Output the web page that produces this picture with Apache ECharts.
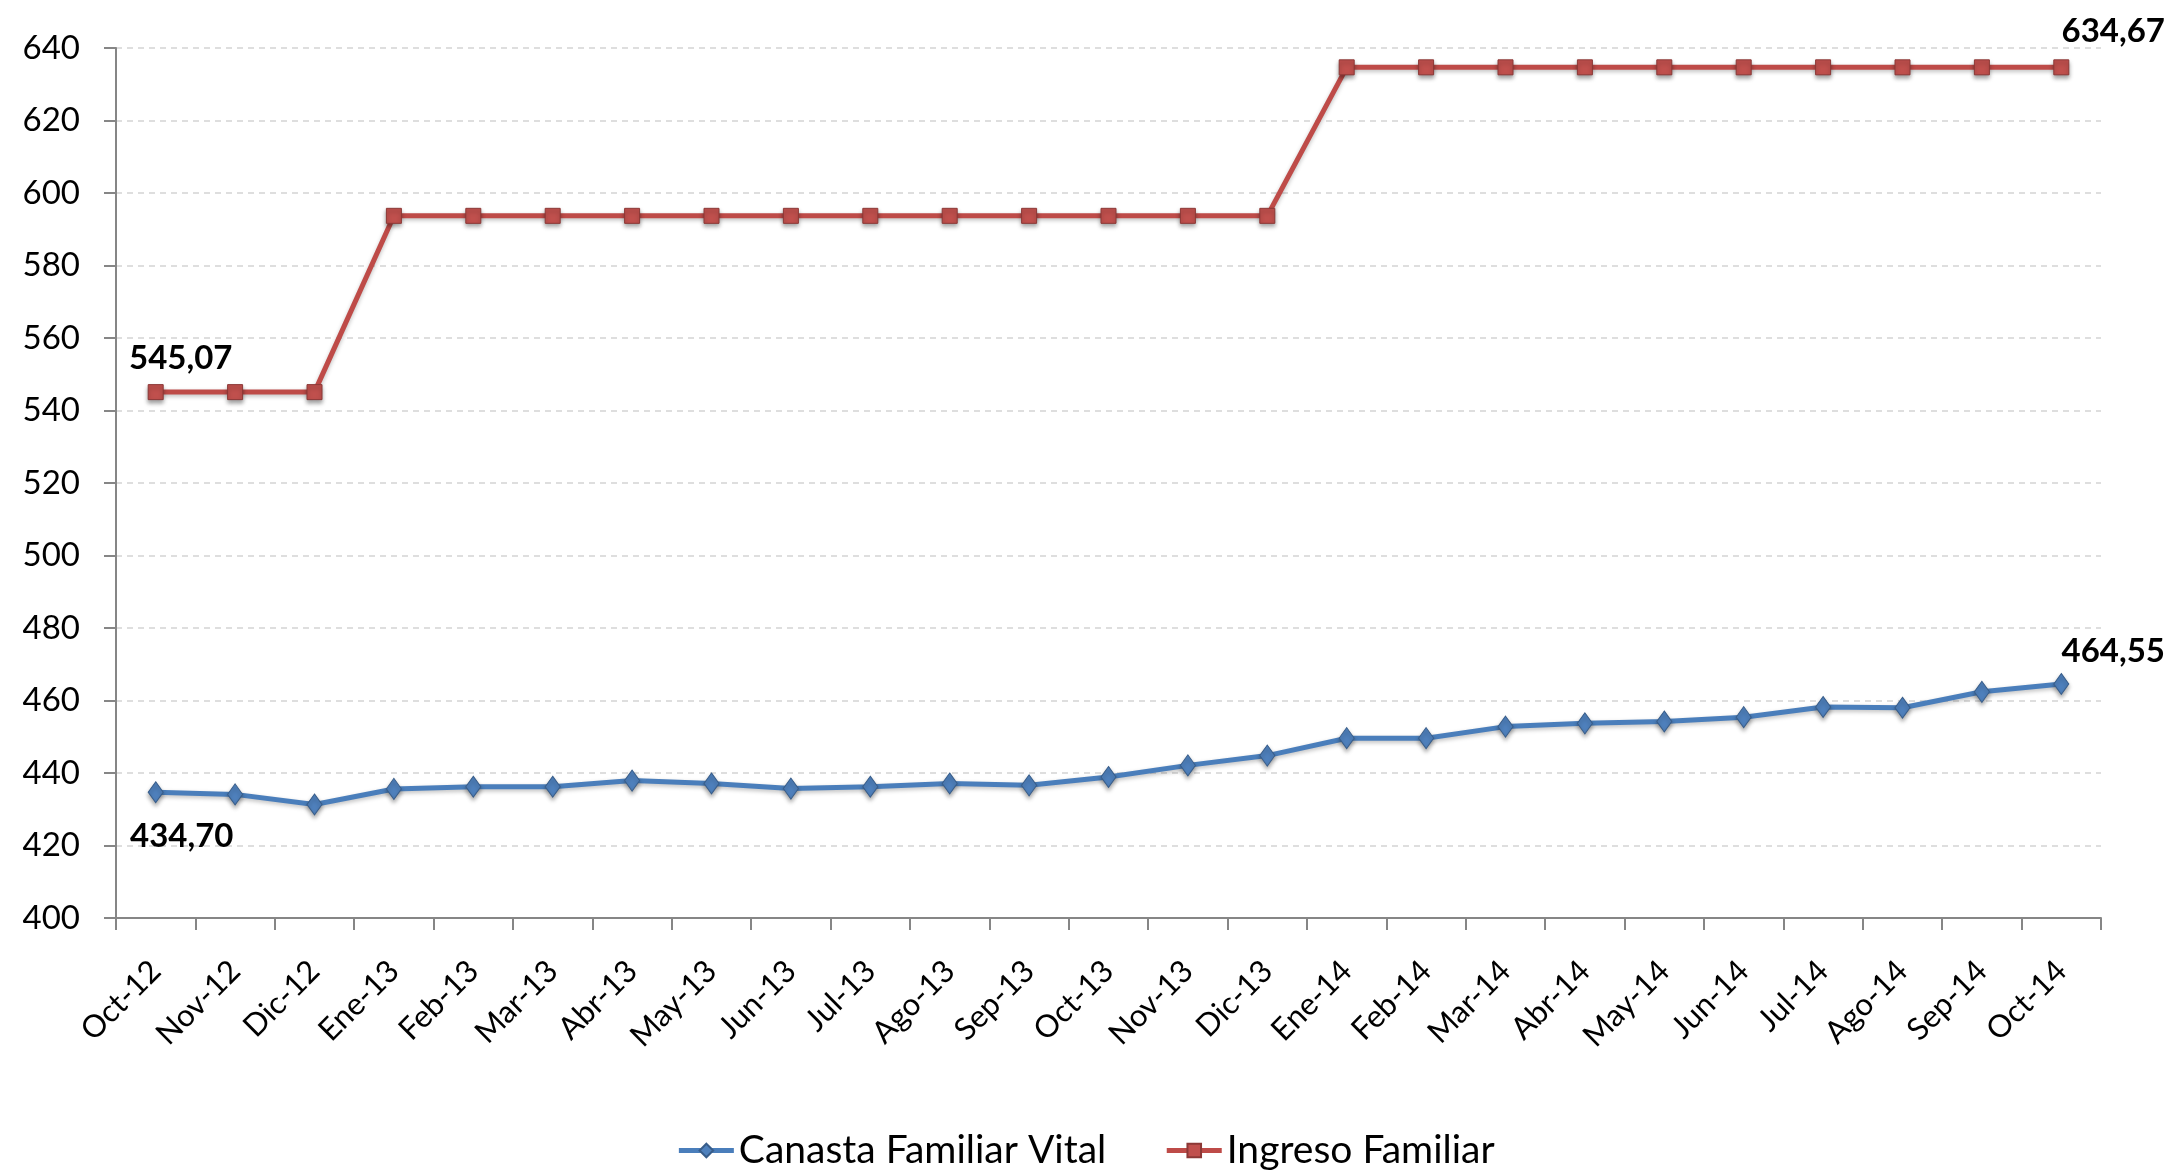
<!DOCTYPE html>
<html>
<head>
<meta charset="utf-8">
<script src="https://cdn.jsdelivr.net/npm/echarts@6/dist/echarts.min.js"></script>
<style>
  html, body { margin: 0; padding: 0; background: #fff; }
  #main { width: 2171px; height: 1170px; }
</style>
</head>
<body>
<div id="main"></div>
<script>
var categories = ['Oct-12', 'Nov-12', 'Dic-12', 'Ene-13', 'Feb-13', 'Mar-13', 'Abr-13', 'May-13', 'Jun-13',
    'Jul-13', 'Ago-13', 'Sep-13', 'Oct-13', 'Nov-13', 'Dic-13', 'Ene-14', 'Feb-14', 'Mar-14', 'Abr-14',
    'May-14', 'Jun-14', 'Jul-14', 'Ago-14', 'Sep-14', 'Oct-14'];

var canastaVital = [434.70, 434.1, 431.3, 435.6, 436.2, 436.2, 437.9, 437.1, 435.7, 436.2, 437.1, 436.6,
    438.9, 442.1, 444.8, 449.6, 449.6, 452.8, 453.7, 454.2, 455.4, 458.2, 458.0, 462.4, 464.55];

var ingresoFamiliar = [545.07, 545.07, 545.07, 593.7, 593.7, 593.7, 593.7, 593.7, 593.7, 593.7, 593.7, 593.7,
    593.7, 593.7, 593.7, 634.67, 634.67, 634.67, 634.67, 634.67, 634.67, 634.67, 634.67, 634.67, 634.67];

var yTicks = {min: 400, max: 640, step: 20};

var FONT = 'Lato';

// etiquetas solo en el primer y ultimo punto
function withLabels(values, firstOffset, lastOffset) {
    var last = values.length - 1;
    return values.map(function (v, i) {
        if (i === 0 || i === last) {
            return {
                value: v,
                label: {
                    show: true,
                    position: 'inside',
                    offset: i === 0 ? firstOffset : lastOffset,
                    formatter: function (p) { return p.value.toFixed(2).replace('.', ','); },
                    fontFamily: FONT,
                    fontSize: 33,
                    fontWeight: 'bold',
                    color: '#000'
                }
            };
        }
        return v;
    });
}

var myChart = echarts.init(document.getElementById('main'));

var option = {
    backgroundColor: '#fff',
    animation: false,
    grid: {left: 116, right: 70, top: 48, bottom: 252, containLabel: false},
    legend: {
        top: 1126,
        left: 'center',
        itemWidth: 55,
        itemHeight: 17,
        itemGap: 58,
        lineStyle: {width: 5},
        textStyle: {fontFamily: FONT, fontSize: 39, color: '#000'},
        data: ['Canasta Familiar Vital', 'Ingreso Familiar']
    },
    xAxis: {
        type: 'category',
        data: categories,
        boundaryGap: true,
        axisLine: {lineStyle: {color: '#868686', width: 2}},
        axisTick: {show: true, length: 12, interval: 0, lineStyle: {color: '#868686', width: 2}},
        axisLabel: {
            interval: 0, rotate: 45, margin: 48,
            fontFamily: FONT, fontSize: 31, color: '#000'
        },
        splitLine: {show: false}
    },
    yAxis: {
        type: 'value',
        min: yTicks.min,
        max: yTicks.max,
        interval: yTicks.step,
        axisLine: {show: true, lineStyle: {color: '#868686', width: 2}},
        axisTick: {show: true, length: 12, lineStyle: {color: '#868686', width: 2}},
        axisLabel: {margin: 36, fontFamily: FONT, fontSize: 33, color: '#000'},
        splitLine: {lineStyle: {color: '#d4d4d4', width: 1.5, type: [6, 5]}}
    },
    series: [
        {
            name: 'Canasta Familiar Vital',
            type: 'line',
            data: withLabels(canastaVital, [26, 44], [52, -33]),
            symbol: 'diamond',
            symbolSize: [15, 21],
            lineStyle: {color: '#4A7EBB', width: 5, shadowColor: 'rgba(0,0,0,0.25)', shadowBlur: 4, shadowOffsetY: 2},
            itemStyle: {color: '#4F81BD', borderColor: '#385D8A', borderWidth: 1,
                shadowColor: 'rgba(0,0,0,0.35)', shadowBlur: 4, shadowOffsetY: 3},
            z: 3
        },
        {
            name: 'Ingreso Familiar',
            type: 'line',
            data: withLabels(ingresoFamiliar, [25, -34], [52, -36]),
            symbol: 'rect',
            symbolSize: 15,
            lineStyle: {color: '#BE4B48', width: 5, shadowColor: 'rgba(0,0,0,0.25)', shadowBlur: 4, shadowOffsetY: 2},
            itemStyle: {color: '#C0504D', borderColor: '#8C3836', borderWidth: 1,
                shadowColor: 'rgba(0,0,0,0.35)', shadowBlur: 4, shadowOffsetY: 3},
            z: 3
        }
    ]
};

myChart.setOption(option);
</script>
</body>
</html>
